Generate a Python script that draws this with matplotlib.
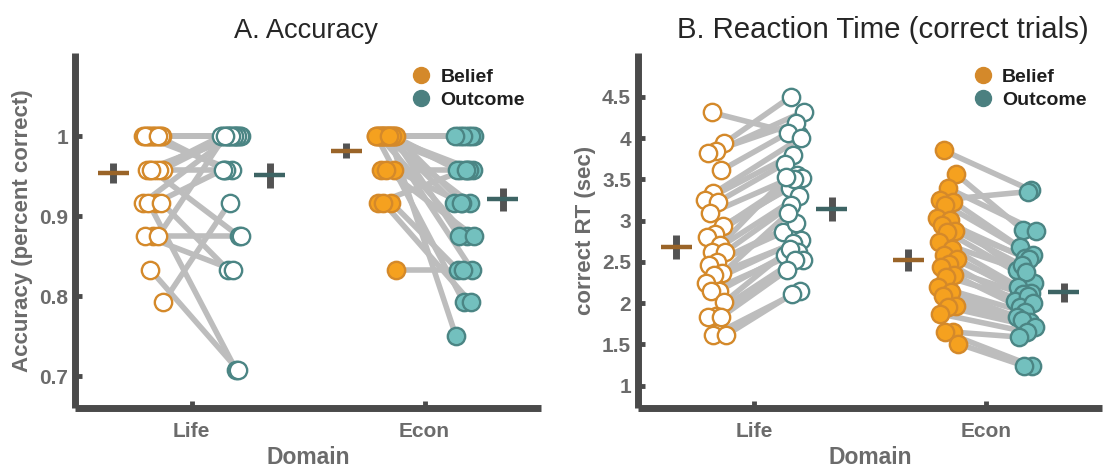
import numpy as np
import matplotlib
matplotlib.use("Agg")
import matplotlib.pyplot as plt
from matplotlib.lines import Line2D

plt.rcParams["font.family"] = ["Liberation Sans", "DejaVu Sans"]

domains = ["Life", "Econ"]
conditions = ["Belief", "Outcome"]

# accuracy per subject (paired belief -> outcome), values are k/24
acc_life_belief = [1.0] * 11 + [1.0, 1.0] + [0.958] * 4 + [0.958, 0.958] + [0.917, 0.917, 0.917, 0.917] + [0.875, 0.875, 0.875] + [0.833, 0.792]
acc_life_outcome = [1.0] * 11 + [0.958, 0.958] + [1.0] * 4 + [0.958, 0.875] + [1.0, 0.958, 0.708, 0.833] + [0.875, 0.833, 1.0] + [0.708, 0.917]
acc_econ_belief = [1.0] * 21 + [0.958] * 3 + [0.917] * 3 + [0.833]
acc_econ_outcome = ([1.0] * 8 + [0.958] * 5 + [0.917] * 3 + [0.875] * 2 + [0.833, 0.792, 0.75]
                    + [0.958, 0.917, 0.875] + [0.958, 0.833, 0.792] + [0.833])

acc_mean = {"Belief": [0.954, 0.982], "Outcome": [0.951, 0.921]}
acc_sem = {"Belief": [0.013, 0.009], "Outcome": [0.016, 0.014]}

# reaction time (sec), correct trials, paired belief -> outcome
rt_life_belief = [4.31, 3.94, 3.84, 3.82, 3.61, 3.33, 3.25, 3.23, 3.09, 2.94, 2.84, 2.80, 2.70, 2.62,
                  2.62, 2.50, 2.46, 2.36, 2.34, 2.24, 2.15, 2.15, 2.01, 1.85, 1.83, 1.83, 1.61, 1.61]
rt_life_outcome = [4.04, 4.50, 4.32, 4.18, 4.06, 4.00, 3.80, 3.69, 3.55, 3.39, 3.51, 3.50, 3.53, 3.30,
                   3.19, 2.86, 2.97, 3.09, 2.76, 2.73, 2.58, 2.62, 2.66, 2.52, 2.52, 2.40, 2.15, 2.11]
rt_econ_belief = [3.85, 3.56, 3.39, 3.25, 3.23, 3.19, 3.03, 3.01, 2.95, 2.88, 2.86, 2.74, 2.66, 2.58,
                  2.54, 2.48, 2.44, 2.34, 2.32, 2.20, 2.13, 2.09, 1.97, 1.95, 1.87, 1.65, 1.65, 1.51]
rt_econ_outcome = [3.37, 2.89, 2.88, 3.35, 2.68, 2.58, 2.55, 2.40, 2.54, 2.46, 2.25, 2.38, 2.20, 2.12,
                   2.11, 2.03, 2.09, 1.95, 2.00, 1.89, 1.83, 1.77, 1.79, 1.71, 1.65, 1.59, 1.24, 1.24]

rt_mean = {"Belief": [2.68, 2.52], "Outcome": [3.14, 2.13]}
rt_sem = {"Belief": [0.14, 0.13], "Outcome": [0.14, 0.12]}

# styling
GREY_TXT = "#6B6B6B"
SPINE = "#4A4A4A"
LINK = "#BDBDBD"
EDGE = {"Belief": "#D4892A", "Outcome": "#4B8584"}
FILL = {"Belief": "#F5A11F", "Outcome": "#73C0BE"}
MEAN_COL = {"Belief": "#9A6428", "Outcome": "#3D6464"}
LEG_COL = {"Belief": "#D4892A", "Outcome": "#4B8080"}
OFFSET = {"Belief": -0.165, "Outcome": 0.17}
MEAN_OFF = {"Belief": -0.335, "Outcome": 0.335}


def jitter(n, center, width=0.09, phase=0.3):
    k = np.arange(n)
    return center + width * (((k * 0.618034) + phase) % 1.0 - 0.5)


def draw_panel(ax, pairs, means, sems):
    # pairs: list over domains of (belief_values, outcome_values)
    for d, (b, o) in enumerate(pairs):
        xpos = d + 1
        b = np.asarray(b)
        o = np.asarray(o)
        xb = xpos + jitter(len(b), OFFSET["Belief"], phase=0.3)
        xo = xpos + jitter(len(o), OFFSET["Outcome"], phase=0.75)
        for i in range(len(b)):
            ax.plot([xb[i], xo[i]], [b[i], o[i]], color=LINK, lw=4,
                    solid_capstyle="butt", zorder=1)
        hollow = d == 0
        for cond, xs, ys in (("Belief", xb, b), ("Outcome", xo, o)):
            ax.plot(xs, ys, "o", ms=12.5, mew=1.7, mec=EDGE[cond],
                    mfc="white" if hollow else FILL[cond], zorder=3, linestyle="none")
        for cond in conditions:
            mx = xpos + MEAN_OFF[cond]
            m = means[cond][d]
            s = sems[cond][d]
            ax.plot([mx, mx], [m - s, m + s], color=SPINE, lw=5, alpha=0.95,
                    solid_capstyle="butt", zorder=4)
            ax.plot([mx - 0.066, mx + 0.066], [m, m], color=MEAN_COL[cond], lw=3.2,
                    solid_capstyle="butt", zorder=5)


def style_axes(ax, ylim, yticks, ylabel, title, title_x, title_size):
    ax.set_xlim(0.5, 2.5)
    ax.set_ylim(*ylim)
    ax.set_xticks([1, 2])
    ax.set_xticklabels(domains)
    ax.set_yticks(yticks)
    ax.set_yticklabels(["%g" % t for t in yticks])
    for side in ("top", "right"):
        ax.spines[side].set_visible(False)
    for side in ("left", "bottom"):
        ax.spines[side].set_linewidth(5)
        ax.spines[side].set_color(SPINE)
        ax.spines[side].set_capstyle("butt")
    ax.tick_params(axis="both", direction="in", length=5, width=3.5, color=SPINE,
                   labelsize=15, labelcolor=GREY_TXT)
    ax.tick_params(axis="x", pad=10)
    ax.tick_params(axis="y", pad=5)
    for lbl in ax.get_xticklabels() + ax.get_yticklabels():
        lbl.set_fontweight("bold")
    ax.set_xlabel("Domain", fontsize=16.5, fontweight="bold", color=GREY_TXT, labelpad=4)
    ax.set_ylabel(ylabel, fontsize=16, fontweight="bold", color=GREY_TXT, labelpad=4)
    ax.set_title(title, fontsize=title_size, color="#262626", pad=11, x=title_x)
    handles = [Line2D([], [], marker="o", linestyle="none", ms=11.5, mfc=LEG_COL[c],
                      mec=LEG_COL[c], label=c) for c in conditions]
    leg = ax.legend(handles=handles, loc="upper left", bbox_to_anchor=(0.722, 0.958),
                    frameon=False, borderpad=0, borderaxespad=0, handlelength=1.0,
                    handletextpad=0.5, labelspacing=0.3,
                    prop={"weight": "bold", "size": 14})
    for t in leg.get_texts():
        t.set_color("#1E1E1E")


fig = plt.figure(figsize=(11.04, 4.68), dpi=100)
ax1 = fig.add_axes([75 / 1104, 60 / 468, 466 / 1104, 355 / 468])
ax2 = fig.add_axes([638 / 1104, 60 / 468, 464 / 1104, 355 / 468])

draw_panel(ax1, [(acc_life_belief, acc_life_outcome), (acc_econ_belief, acc_econ_outcome)],
           acc_mean, acc_sem)
style_axes(ax1, (0.66, 1.104), [0.7, 0.8, 0.9, 1.0], "Accuracy (percent correct)",
           "A. Accuracy", 0.495, 19.6)

draw_panel(ax2, [(rt_life_belief, rt_life_outcome), (rt_econ_belief, rt_econ_outcome)],
           rt_mean, rt_sem)
style_axes(ax2, (0.73, 5.03), [1, 1.5, 2, 2.5, 3, 3.5, 4, 4.5], "correct RT (sec)",
           "B. Reaction Time (correct trials)", 0.528, 21.2)

fig.savefig("out.png", dpi=100)
